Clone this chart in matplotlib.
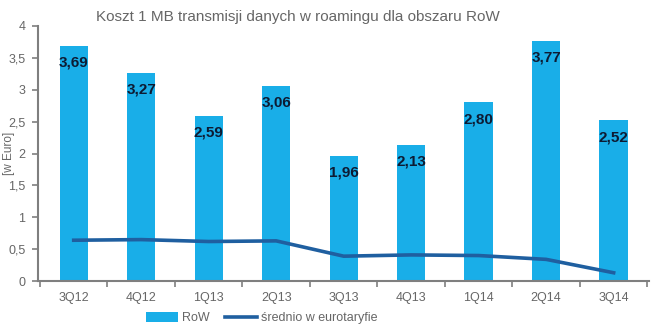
import matplotlib
matplotlib.use("Agg")
import matplotlib.pyplot as plt

plt.rcParams['font.family'] = ['Liberation Sans', 'DejaVu Sans']

# dane
kwartaly = ['3Q12', '4Q12', '1Q13', '2Q13', '3Q13', '4Q13', '1Q14', '2Q14', '3Q14']
row = [3.69, 3.27, 2.59, 3.06, 1.96, 2.13, 2.80, 3.77, 2.52]
eurotaryfa = [0.64, 0.65, 0.62, 0.63, 0.39, 0.41, 0.40, 0.34, 0.13]
y_ticks = [0, 0.5, 1, 1.5, 2, 2.5, 3, 3.5, 4]

gray = '#7f7f7f'
txt = '#666666'

fig = plt.figure(figsize=(6.54, 3.33), dpi=100)
ax = fig.add_axes([0.058, 0.156, 0.935, 0.766])

x = list(range(len(kwartaly)))
bars = ax.bar(x, row, width=0.42, color='#19aee8', label='RoW', zorder=2)
line, = ax.plot(x, eurotaryfa, color='#1f5fa0', linewidth=2.6,
                label='średnio w eurotaryfie', zorder=3)

# etykiety wartości w słupkach
for b, v in zip(bars, row):
    ax.annotate(f"{v:.2f}".replace('.', ','),
                (b.get_x() + b.get_width() / 2, v),
                xytext=(0, -12), textcoords='offset points',
                ha='center', va='center', fontsize=11, fontweight='bold',
                color='#0d1b33', zorder=4)

ax.set_xlim(-0.53, len(kwartaly) - 0.47)
ax.set_ylim(0, 4)
ax.set_yticks(y_ticks)
ax.set_yticklabels([f"{t:g}".replace('.', ',') for t in y_ticks])
ax.set_xticks(x)
ax.set_xticklabels(kwartaly)
ax.set_xticks([i + 0.5 for i in range(-1, len(kwartaly))], minor=True)
ax.tick_params(axis='x', which='major', length=0, pad=8, labelsize=9, labelcolor=txt)
ax.tick_params(axis='x', which='minor', length=4, color=gray, width=1.2)
ax.tick_params(axis='y', length=4, color=gray, width=1.2, labelsize=9, labelcolor=txt, pad=5)

for s in ['top', 'right']:
    ax.spines[s].set_visible(False)
for s in ['left', 'bottom']:
    ax.spines[s].set_color(gray)
    ax.spines[s].set_linewidth(1.5)

ax.set_ylabel('[w Euro]', fontsize=8.5, color=txt)
ax.yaxis.set_label_coords(-0.038, 0.5)
fig.text(0.456, 0.948, 'Koszt 1 MB transmisji danych w roamingu dla obszaru RoW',
         ha='center', va='center', fontsize=11, color=txt)

fig.legend(handles=[bars, line], loc='center', bbox_to_anchor=(0.40, 0.045),
           ncol=2, frameon=False, fontsize=9, labelcolor=txt,
           handlelength=2.6, handleheight=0.9, columnspacing=1.2, handletextpad=0.3)

fig.savefig('out.png', dpi=100)
